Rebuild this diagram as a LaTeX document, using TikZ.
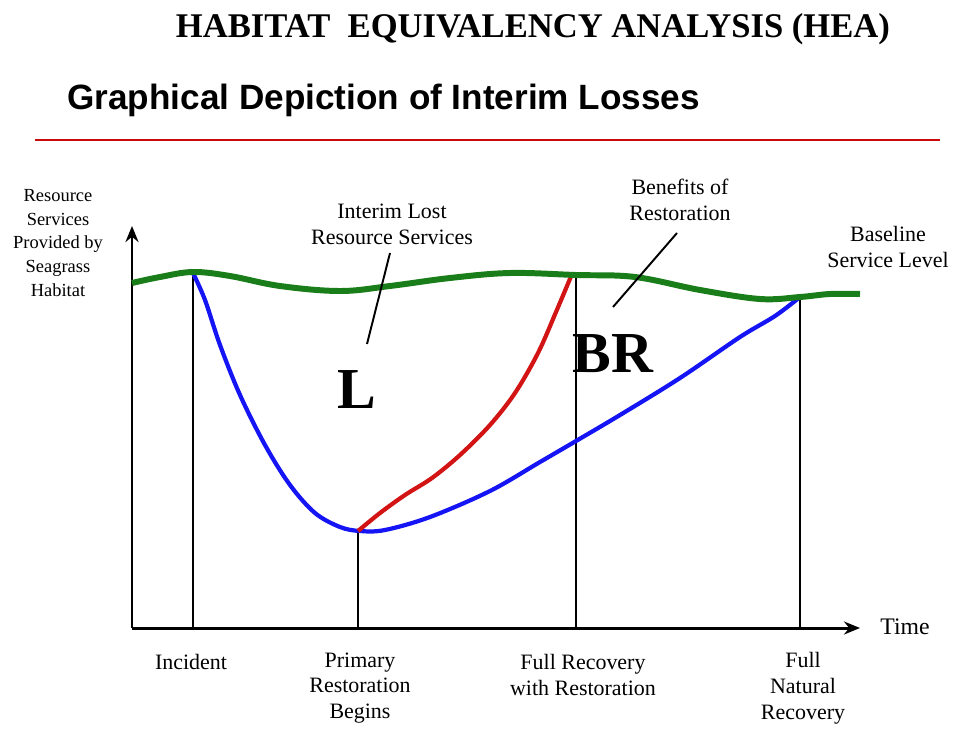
\documentclass[tikz,border=0pt]{standalone}
\usepackage{fontspec}
\setmainfont{Liberation Serif}
\newfontfamily\arialfont{Liberation Sans}
\usetikzlibrary{arrows.meta}
\definecolor{hgreen}{RGB}{25,125,25}
\definecolor{hblue}{RGB}{20,20,245}
\definecolor{hred}{RGB}{210,20,20}
\definecolor{sepred}{RGB}{200,10,10}
\tikzset{
  lbl/.style={align=center,inner sep=0pt,font=\fontsize{12.5}{14.7}\selectfont},
  lbls/.style={align=center,inner sep=0pt,font=\fontsize{10.5}{13.4}\selectfont},
  big/.style={inner sep=0pt,font=\bfseries\fontsize{33}{36}\selectfont},
  axisline/.style={line width=1.7pt,-{Stealth[length=0.32cm,width=0.26cm]}},
  vline/.style={line width=1.1pt},
  ptr/.style={line width=1.1pt},
  baseline curve/.style={hgreen,line width=3.4pt},
  natural curve/.style={hblue,line width=2.4pt},
  restored curve/.style={hred,line width=2.4pt},
}
\begin{document}
\begin{tikzpicture}[x=0.02cm,y=-0.02cm]
\useasboundingbox (0,0) rectangle (969,753);
% titles
\node[inner sep=0pt,font=\bfseries\fontsize{19.7}{22}\selectfont] (title) at (533,29) {HABITAT\ \ EQUIVALENCY ANALYSIS (HEA)};
\node[inner sep=0pt,anchor=west,font=\arialfont\bfseries\fontsize{20}{23}\selectfont] (sub) at (67,100) {Graphical Depiction of Interim Losses};
\coordinate (sepL) at (35,140);
\coordinate (sepR) at (940,140);
\draw[sepred,line width=1.3pt] (sepL) -- (sepR);
% axes
\coordinate (O) at (132,628);
\coordinate (ytop) at (132,226);
\coordinate (xend) at (860,628);
\draw[axisline] (O) -- (ytop);
\draw[axisline] (O) -- (xend);
% event coordinates
\coordinate (inc) at (193,273);
\coordinate (incB) at (193,628);
\coordinate (prim) at (358,531);
\coordinate (primB) at (358,628);
\coordinate (full) at (576,273);
\coordinate (fullB) at (576,628);
\coordinate (nat) at (800,297);
\coordinate (natB) at (800,628);
\draw[vline] (inc) -- (incB);
\draw[vline] (prim) -- (primB);
\draw[vline] (full) -- (fullB);
\draw[vline] (nat) -- (natB);
% curves
\draw[natural curve] plot[smooth,tension=0.55] coordinates {(193,273) (205,300) (220,345) (240,395) (265,445) (290,485) (315,513) (340,527) (360,531) (385,530) (430,517) (490,491) (540,462) (576,441) (620,415) (680,378) (740,337) (775,316) (800,297)};
\draw[restored curve] plot[smooth,tension=0.55] coordinates {(358,531) (380,513) (405,495) (432,478) (460,455) (490,425) (515,393) (538,353) (556,312) (572,274)};
\draw[baseline curve] plot[smooth,tension=0.6] coordinates {(132,283) (160,277) (193,272) (230,276) (280,286) (340,291) (390,286) (450,278) (510,273) (576,275) (635,277) (700,290) (760,299) (800,297) (830,294) (860,294)};
% labels
\node[lbls] (ylab) at (58,243) {Resource\\Services\\Provided by\\Seagrass\\Habitat};
\node[lbl] (interim) at (392,224) {Interim Lost\\Resource Services};
\node[lbl] (benefit) at (680,200) {Benefits of\\Restoration};
\node[lbl] (baseline) at (888,247) {Baseline\\Service Level};
\node[lbl,font=\fontsize{13.5}{15}\selectfont] (time) at (905,627) {Time};
\node[lbl] (incident) at (191,662) {Incident};
\node[lbl] (primary) at (360,688) {Primary\\Restoration\\Begins};
\node[lbl] (fullrec) at (583,675) {Full Recovery\\with Restoration};
\node[lbl] (natrec) at (803,688) {Full\\Natural\\Recovery};
\node[big] (L) at (357,390) {L};
\node[big] (BR) at (613,354) {BR};
% pointers
\coordinate (p1a) at (390,253);
\coordinate (p1b) at (367,344);
\coordinate (p2a) at (677,233);
\coordinate (p2b) at (613,307);
\draw[ptr] (p1a) -- (p1b);
\draw[ptr] (p2a) -- (p2b);
\end{tikzpicture}
\end{document}
